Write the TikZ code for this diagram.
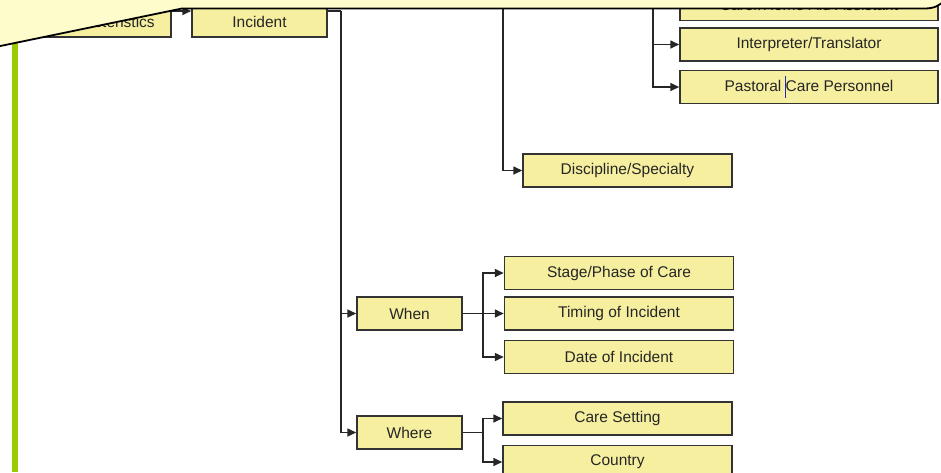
\documentclass[tikz,border=0pt]{standalone}
\usepackage{fontspec}
\setmainfont{Liberation Sans}
\usepackage{xcolor}
\usetikzlibrary{arrows.meta, positioning}
\definecolor{boxfill}{RGB}{246,239,160}
\definecolor{boxline}{RGB}{51,51,51}
\definecolor{notefill}{RGB}{255,252,204}
\definecolor{barcolor}{RGB}{153,204,0}
\definecolor{caretblue}{RGB}{40,40,170}
\newcommand{\caret}{\makebox[0pt]{\textcolor{caretblue}{\rule[-7pt]{1.5pt}{22pt}}}}

\begin{document}
\begin{tikzpicture}[
x=1pt, y=-1pt,
node distance=9pt,
box/.style={draw=boxline, line width=1.5pt, fill=boxfill, minimum height=33pt, inner sep=0pt, text=black!85, font=\fontsize{15.5}{18}\selectfont},
tag/.style={inner sep=0pt, text=black!85, font=\fontsize{15.5}{18}\selectfont},
small/.style={box, minimum width=105pt},
wide/.style={box, minimum width=229pt},
side/.style={box, minimum width=258pt},
arrow/.style={-{Triangle[length=9pt, width=8pt]}, line width=1.6pt, black!85},
link/.style={line width=1.6pt, black!85}
]
\useasboundingbox (0,0) rectangle (941,472);
\clip (0,0) rectangle (941,472);

\fill[barcolor] (12,40) rectangle (17.5,472);

\node (char) [box, minimum width=135pt, minimum height=52pt] at (103.5,11) {};
\node (chartag) [tag] at ([yshift=15.5pt]char.south) {Characteristics};
\node (inc) [box, minimum width=135pt, minimum height=52pt] at (259.5,11) {};
\node (inctag) [tag] at ([yshift=15.5pt]inc.south) {Incident};

\node (carer) [side] at (809,4) {};
\node (carertag) [tag] at (809,5) {Carer/Home Aid Assistant};
\node (interp) [side] at (809,44.5) {Interpreter/Translator};
\node (past) [side] at (809,87) {Pastoral \caret Care Personnel};

\node (disc) [box, minimum width=209pt] at (627.5,170.5) {Discipline/Specialty};

\node (when) [small] at (409.5,313.5) {When};
\node (timing) [wide, right=41pt of when] {Timing of Incident};
\node (stage) [wide, above=6pt of timing] {Stage/Phase of Care};
\node (date) [wide, below=of timing] {Date of Incident};

\node (where) [small] at (409.5,432.5) {Where};
\node (care) [wide] at (617.5,418.5) {Care Setting};
\node (country) [wide, below=of care] {Country};

\coordinate (trunk) at (341,11);
\coordinate (spec) at (503,0);
\coordinate (staff) at (653,0);
\coordinate (whenfork) at (483,313.5);
\coordinate (wherefork) at (483,432.5);

\draw[arrow] (char) -- (inc);
\draw[link] (inc.east) -- (trunk);
\draw[arrow] (trunk) |- (when);
\draw[arrow] (trunk) |- (where);

\draw[arrow] (spec) |- (disc);
\draw[arrow] (staff) |- (carer);
\draw[arrow] (staff) |- (interp);
\draw[arrow] (staff) |- (past);

\draw[arrow] (when) -- (timing);
\draw[arrow] (whenfork) |- (stage);
\draw[arrow] (whenfork) |- (date);

\draw[link] (where) -- (wherefork);
\draw[arrow] (wherefork) |- (care);
\draw[arrow] (wherefork) |- (country);

\filldraw[fill=notefill, draw=black, line width=1.8pt] (-20,50.2) -- (182,8.5) -- (924,8.5) .. controls (934,8.5) and (939,6) .. (945,0) -- (945,-20) -- (-20,-20) -- cycle;
\end{tikzpicture}
\end{document}
